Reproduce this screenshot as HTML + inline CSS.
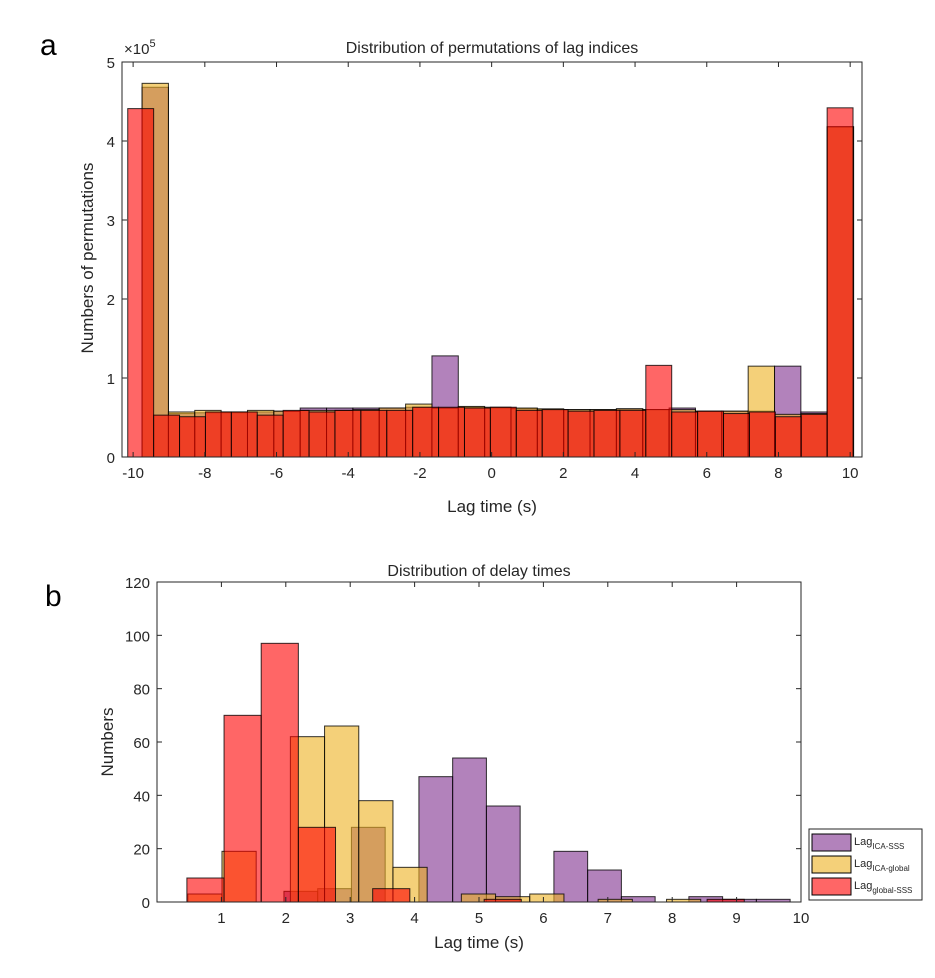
<!DOCTYPE html>
<html><head><meta charset="utf-8"><style>
body{margin:0;background:#fff;}
svg text{font-family:"Liberation Sans",Arial,sans-serif;fill:#262626;}
</style></head><body>
<svg id="fig" width="935" height="973" xmlns="http://www.w3.org/2000/svg">
<rect width="935" height="973" fill="#fff"/>
<text x="40" y="55" font-size="30" style="fill:#000">a</text>
<text x="45" y="606" font-size="30" style="fill:#000">b</text>
<g id="ga"></g>
<g id="gb"></g>
</svg>
<script>
// ---- Panel a data (counts in units of 1e5) ----
const aTicksX = [-10,-8,-6,-4,-2,0,2,4,6,8,10];
const aTicksY = [0,1,2,3,4,5];
const aRedStart = -10.15, aRedWidth = 0.7225;
const aRed = [4.41,0.53,0.51,0.57,0.57,0.53,0.59,0.57,0.59,0.59,0.59,0.63,0.63,0.62,0.63,0.59,0.60,0.58,0.59,0.59,1.16,0.57,0.58,0.55,0.57,0.51,0.54,4.42];
const aOthStart = -9.75, aOthWidth = 0.735;
const aYellow = [4.73,0.57,0.59,0.57,0.59,0.58,0.59,0.59,0.60,0.62,0.67,0.62,0.64,0.63,0.62,0.61,0.60,0.60,0.61,0.60,0.60,0.58,0.58,1.15,0.54,0.55,4.18];
const aPurple = [4.68,0.55,0.56,0.56,0.57,0.58,0.62,0.62,0.62,0.62,0.63,1.28,0.63,0.62,0.61,0.60,0.60,0.60,0.61,0.60,0.62,0.58,0.58,0.58,1.15,0.57,4.18];
// ---- Panel b data ----
const bTicksX = [1,2,3,4,5,6,7,8,9,10];
const bTicksY = [0,20,40,60,80,100,120];
const bPurpleStart = 1.971, bPurpleWidth = 0.524;
const bPurple = [4,5,28,0,47,54,36,0,19,12,2,0,2,1,1];
const bYellowStart = 0.478, bYellowWidth = 0.531;
const bYellow = [3,19,0,62,66,38,13,0,3,2,3,0,1,0,1];
const bRedStart = 0.464, bRedWidth = 0.577;
const bRed = [9,70,97,28,0,5,0,0,1,0,0,0,0,0,1];

const NS = "http://www.w3.org/2000/svg";
function mk(parent, tag, attrs){const e=document.createElementNS(NS,tag);for(const k in attrs)e.setAttribute(k,attrs[k]);parent.appendChild(e);return e;}
const COL = {purple:"#7E2F8E", yellow:"#EDB120", red:"#FF0000"};

function axes(g, L,R,T,B, xmin,xmax,ymin,ymax){
  const sx=v=>L+(v-xmin)/(xmax-xmin)*(R-L);
  const sy=v=>B-(v-ymin)/(ymax-ymin)*(B-T);
  return {sx,sy};
}
function drawBars(g, A, start, width, vals, color, name){
  vals.forEach((v,i)=>{
    if(v<=0) return;
    const x0=A.sx(start+i*width), x1=A.sx(start+(i+1)*width);
    const r=mk(g,"rect",{x:x0,y:A.sy(v),width:x1-x0,height:A.sy(0)-A.sy(v),fill:color,"fill-opacity":0.6,stroke:"#000","stroke-opacity":0.8,"stroke-width":1});
    
    
  });
}
function frame(g,L,R,T,B){
  const f=mk(g,"rect",{x:L,y:T,width:R-L,height:B-T,fill:"none",stroke:"#262626","stroke-width":1});
  
  
}
function ticks(g,A,L,R,T,B,tx,ty,fs,name){
  tx.forEach(v=>{const x=A.sx(v);
    mk(g,"line",{x1:x,x2:x,y1:B,y2:B-5,stroke:"#262626"});mk(g,"line",{x1:x,x2:x,y1:T,y2:T+5,stroke:"#262626"});
    const t=mk(g,"text",{x:x,y:B+21,"font-size":fs,"text-anchor":"middle"});t.textContent=v;
    
    });
  ty.forEach(v=>{const y=A.sy(v);
    mk(g,"line",{x1:L,x2:L+5,y1:y,y2:y,stroke:"#262626"});mk(g,"line",{x1:R,x2:R-5,y1:y,y2:y,stroke:"#262626"});
    const t=mk(g,"text",{x:L-7,y:y+6,"font-size":fs,"text-anchor":"end"});t.textContent=v;
    
    });
}
function label(g,x,y,txt,fs,rot,name){
  const t=mk(g,"text",{x:x,y:y,"font-size":fs,"text-anchor":"middle"});
  if(rot) t.setAttribute("transform","rotate(-90 "+x+" "+y+")");
  t.textContent=txt;
  
  
  return t;
}
// Panel a
(function(){
  const g=document.getElementById("ga");
  const L=122,R=862,T=62,B=457;
  const A=axes(g,L,R,T,B,-10.31,10.33,0,5);
  drawBars(g,A,aOthStart,aOthWidth,aPurple,COL.purple,'a-purple');
  drawBars(g,A,aOthStart,aOthWidth,aYellow,COL.yellow,'a-yellow');
  drawBars(g,A,aRedStart,aRedWidth,aRed,COL.red,'a-red');
  frame(g,L,R,T,B);
  ticks(g,A,L,R,T,B,aTicksX,aTicksY,15,'a');
  label(g,492,53,"Distribution of permutations of lag indices",16,false,'a-title');
  label(g,492,512,"Lag time (s)",17,false,'a-x-axis-title');
  label(g,93,258,"Numbers of permutations",17,true,'a-y-axis-title');
  const e=mk(g,"text",{x:124,y:54,"font-size":15});e.innerHTML='×10<tspan dy="-7" font-size="11">5</tspan>';
  
  
})();
// Panel b
(function(){
  const g=document.getElementById("gb");
  const L=157,R=801,T=582,B=902;
  const A=axes(g,L,R,T,B,0,10,0,120);
  drawBars(g,A,bPurpleStart,bPurpleWidth,bPurple,COL.purple,'b-purple');
  drawBars(g,A,bYellowStart,bYellowWidth,bYellow,COL.yellow,'b-yellow');
  drawBars(g,A,bRedStart,bRedWidth,bRed,COL.red,'b-red');
  frame(g,L,R,T,B);
  ticks(g,A,L,R,T,B,bTicksX,bTicksY,15,'b');
  label(g,479,576,"Distribution of delay times",16,false,'b-title');
  label(g,479,948,"Lag time (s)",17,false,'b-x-axis-title');
  label(g,113,742,"Numbers",17,true,'b-y-axis-title');
  // legend
  const lg=mk(g,"g",{});
  
  
  mk(lg,"rect",{x:809,y:829,width:113,height:71,fill:"#fff",stroke:"#262626","stroke-width":1});
  const ents=[["ICA-SSS",COL.purple],["ICA-global",COL.yellow],["global-SSS",COL.red]];
  ents.forEach((en,i)=>{
    const y=834+i*22;
    const s=mk(lg,"rect",{x:812,y:y,width:39,height:17,fill:en[1],"fill-opacity":0.6,stroke:"#000","stroke-width":1});
    
    
    const t=mk(lg,"text",{x:854,y:y+11,"font-size":11});
    t.innerHTML='Lag<tspan dy="4" font-size="8">'+en[0]+'</tspan>';
    
    
  });
})();
</script>
</body></html>
